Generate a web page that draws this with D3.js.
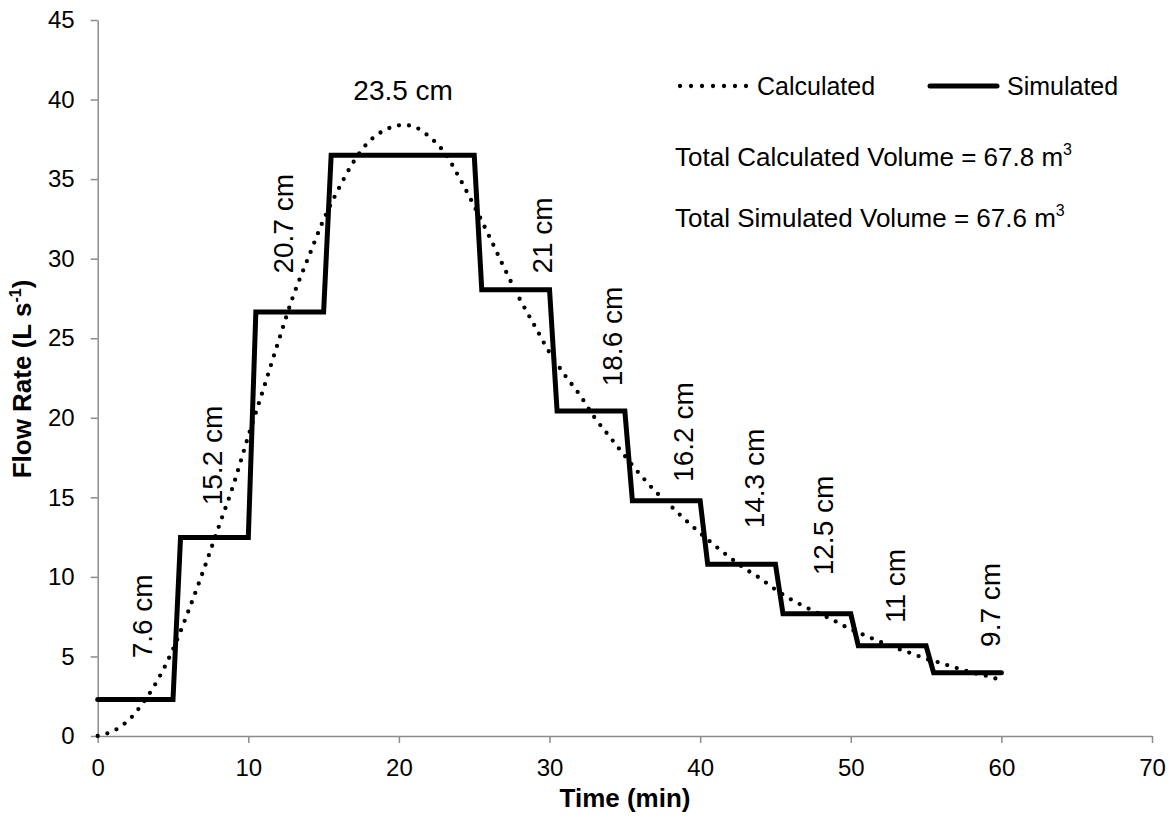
<!DOCTYPE html>
<html>
<head>
<meta charset="utf-8">
<script src="https://cdn.jsdelivr.net/npm/d3@7"></script>
<style>
  html, body { margin: 0; padding: 0; background: #fff; }
  svg { display: block; font-family: "Liberation Sans", Arial, sans-serif; }
</style>
</head>
<body>
<svg id="chart" width="1176" height="822"></svg>
<script>
// ---- Data ----
const calcTime = d3.range(0, 61, 1);
const calcFlow = [0, 0.3, 0.95, 2.07, 3.55, 5.45, 7.8, 10.35, 13.05, 15.75,
  18.85, 21.8, 24.8, 27.7, 30.1, 32.45, 34.4, 36.1, 37.35, 38.05,
  38.38, 38.3, 37.68, 36.7, 35.1, 33.3, 31.4, 29.4, 27.5, 25.8,
  24.1, 22.7, 21.45, 20.0, 18.8, 17.6, 16.45, 15.4, 14.5, 13.6,
  12.75, 11.95, 11.2, 10.5, 9.9, 9.2, 8.6, 8.1, 7.65, 7.2,
  6.7, 6.3, 5.9, 5.53, 5.2, 4.85, 4.58, 4.28, 4.0, 3.78, 3.5];

const simTime = [0, 5, 5.5, 10, 10.5, 15, 15.5, 25, 25.5, 30, 30.5, 35, 35.5, 40, 40.5, 45, 45.5, 50, 50.5, 55, 55.5, 60];
const simFlow = [2.3, 2.3, 12.48, 12.48, 26.65, 26.65, 36.5, 36.5, 28.05, 28.05, 20.42, 20.42, 14.78, 14.78, 10.8, 10.8, 7.68, 7.68, 5.67, 5.67, 3.98, 3.98];

const headLabels = ["7.6 cm", "15.2 cm", "20.7 cm", "21 cm", "18.6 cm", "16.2 cm", "14.3 cm", "12.5 cm", "11 cm", "9.7 cm"];
const headLabelT = [3.59, 8.23, 12.99, 30.15, 34.8, 39.55, 44.24, 48.8, 53.6, 59.9];
const headLabelV = [4.88, 14.5, 29.06, 29.06, 21.98, 15.97, 13.05, 10.1, 7.1, 5.6];
const peakLabel = "23.5 cm";
const peakLabelT = 20.28, peakLabelV = 40.0;

const xTicks = [0, 10, 20, 30, 40, 50, 60, 70];
const yTicks = [0, 5, 10, 15, 20, 25, 30, 35, 40, 45];

// ---- Layout ----
const svg = d3.select("#chart");
const x = d3.scaleLinear().domain([0, 70]).range([97.7, 1152]);
const y = d3.scaleLinear().domain([0, 45]).range([736, 20]);
const axisColor = "#8c8c8c";

// Axes
const gx = svg.append("g").attr("transform", `translate(0,${y(0)})`)
  .call(d3.axisBottom(x).tickValues(xTicks).tickSize(7).tickSizeOuter(0).tickPadding(16).tickFormat(d3.format("d")));
const gy = svg.append("g").attr("transform", `translate(${x(0)},0)`)
  .call(d3.axisLeft(y).tickValues(yTicks).tickSize(7).tickSizeOuter(0).tickPadding(16).tickFormat(d3.format("d")));
[gx, gy].forEach(g => {
  g.select(".domain").attr("stroke", axisColor).attr("stroke-width", 1.5);
  g.selectAll(".tick line").attr("stroke", axisColor).attr("stroke-width", 1.5);
  g.selectAll(".tick text").attr("fill", "#000").style("font-size", "24px")
    .style("font-family", '"Liberation Sans", Arial, sans-serif');
});

// Axis titles
svg.append("text").attr("x", 625).attr("y", 807).attr("text-anchor", "middle")
  .style("font-size", "26px").style("font-weight", "bold").text("Time (min)");
const yt = svg.append("text").attr("transform", "translate(31,379) rotate(-90)")
  .attr("text-anchor", "middle").style("font-size", "26px").style("font-weight", "bold");
yt.append("tspan").text("Flow Rate (L s");
yt.append("tspan").attr("dy", -10).style("font-size", "16px").text("-1");
yt.append("tspan").attr("dy", 10).text(")");

// Lines
const calcLine = d3.line().x((d, i) => x(calcTime[i])).y(d => y(d)).curve(d3.curveCatmullRom.alpha(0.5));
svg.append("path").datum(calcFlow).attr("d", calcLine)
  .attr("fill", "none").attr("stroke", "#000").attr("stroke-width", 4.3)
  .attr("stroke-linecap", "round").attr("stroke-dasharray", "0,10");

const simLine = d3.line().x((d, i) => x(simTime[i])).y(d => y(d));
svg.append("path").datum(simFlow).attr("d", simLine)
  .attr("fill", "none").attr("stroke", "#000").attr("stroke-width", 5)
  .attr("stroke-linejoin", "miter").attr("stroke-linecap", "round");

// Head labels
svg.selectAll(".hl").data(headLabels).enter().append("text")
  .attr("class", "hl")
  .attr("transform", (d, i) => `translate(${x(headLabelT[i])},${y(headLabelV[i])}) rotate(-90)`)
  .style("font-size", "28px").text(d => d);
svg.append("text").attr("x", x(peakLabelT)).attr("y", y(peakLabelV))
  .attr("text-anchor", "middle").style("font-size", "28px").text(peakLabel);

// Legend
svg.append("line").attr("x1", 680).attr("x2", 747).attr("y1", 86).attr("y2", 86)
  .attr("stroke", "#000").attr("stroke-width", 4.3).attr("stroke-linecap", "round").attr("stroke-dasharray", "0,11");
svg.append("text").attr("x", 757).attr("y", 95).style("font-size", "25px").text("Calculated");
svg.append("line").attr("x1", 930).attr("x2", 997).attr("y1", 86).attr("y2", 86)
  .attr("stroke", "#000").attr("stroke-width", 5).attr("stroke-linecap", "round");
svg.append("text").attr("x", 1007).attr("y", 95).style("font-size", "25px").text("Simulated");

const vols = [["Total Calculated Volume = 67.8 m", 166], ["Total Simulated Volume = 67.6 m", 227]];
vols.forEach(([t, yy]) => {
  const tx = svg.append("text").attr("x", 675).attr("y", yy).style("font-size", "26px");
  tx.append("tspan").text(t);
  tx.append("tspan").attr("dy", -11).style("font-size", "16px").text("3");
});
</script>
</body>
</html>
